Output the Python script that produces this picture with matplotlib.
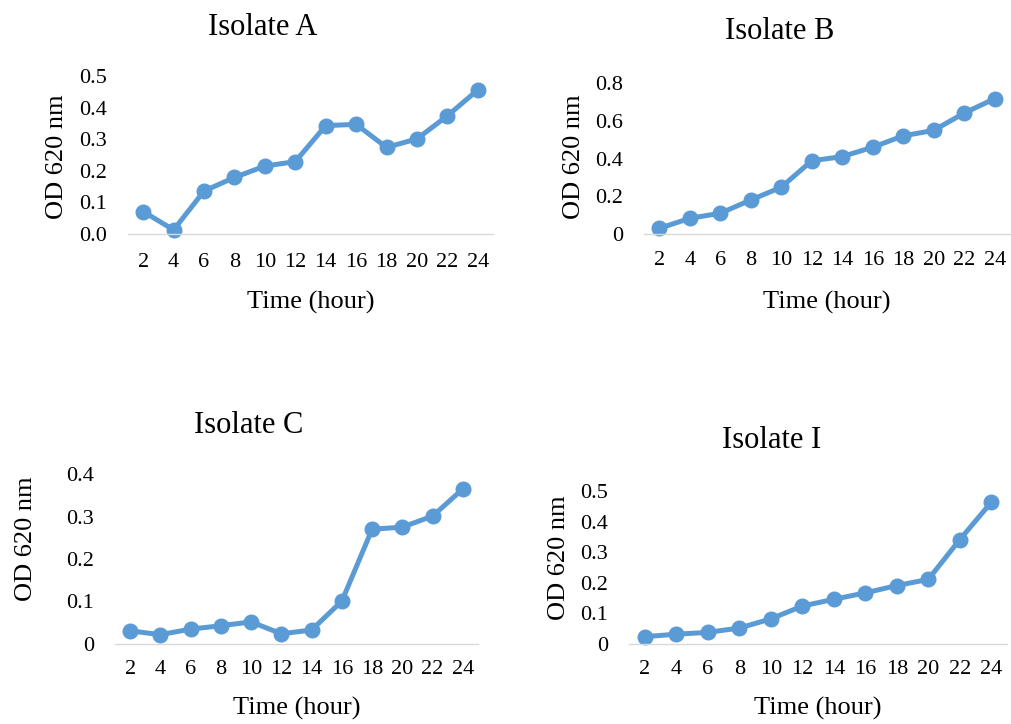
import matplotlib
matplotlib.use('Agg')
from matplotlib import pyplot as plt

# data
hours = [2, 4, 6, 8, 10, 12, 14, 16, 18, 20, 22, 24]
hour_labels = [str(h) for h in hours]

od_a = [0.071, 0.013, 0.136, 0.179, 0.215, 0.229, 0.343, 0.347, 0.274, 0.301, 0.374, 0.456]
od_b = [0.030, 0.083, 0.110, 0.180, 0.248, 0.388, 0.410, 0.460, 0.520, 0.549, 0.641, 0.717]
od_c = [0.031, 0.022, 0.035, 0.043, 0.052, 0.024, 0.033, 0.101, 0.270, 0.275, 0.301, 0.365]
od_i = [0.024, 0.032, 0.038, 0.052, 0.082, 0.124, 0.146, 0.167, 0.191, 0.211, 0.341, 0.463]

yticks_a = [0.0, 0.1, 0.2, 0.3, 0.4, 0.5]
ylabels_a = ['0.0', '0.1', '0.2', '0.3', '0.4', '0.5']
yticks_b = [0, 0.2, 0.4, 0.6, 0.8]
ylabels_b = ['0', '0.2', '0.4', '0.6', '0.8']
yticks_c = [0, 0.1, 0.2, 0.3, 0.4]
ylabels_c = ['0', '0.1', '0.2', '0.3', '0.4']
yticks_i = [0, 0.1, 0.2, 0.3, 0.4, 0.5]
ylabels_i = ['0', '0.1', '0.2', '0.3', '0.4', '0.5']

titles = ['Isolate A', 'Isolate B', 'Isolate C', 'Isolate I']

plt.rcParams['font.family'] = ['Liberation Serif', 'DejaVu Serif']

W, H = 1011, 724
fig = plt.figure(figsize=(W / 100, H / 100), dpi=100)

BLUE = '#5B9BD5'

# panel layout in pixels: left, right, top, bottom of the plot area,
# title (x, baseline), ylabel (x baseline, y center), xlabel baseline, x tick pad
panels = [
    (od_a, yticks_a, ylabels_a, 128, 493, 76, 234, (263, 35), (63, 157), 309, 14),
    (od_b, yticks_b, ylabels_b, 644, 1010, 83, 234, (780, 39), (580, 157), 309, 12),
    (od_c, yticks_c, ylabels_c, 115, 478, 474, 644, (249, 433), (32, 539), 715, 11.5),
    (od_i, yticks_i, ylabels_i, 629, 1007, 491, 644, (772, 448), (565, 558), 715, 11.5),
]

for k, (vals, yt, yl, l, r, t, b, tpos, ypos, xbase, xpad) in enumerate(panels):
    ax = fig.add_axes([l / W, 1 - b / H, (r - l) / W, (b - t) / H])
    ax.plot(hours, vals, color=BLUE, lw=3.6, marker='o', ms=10.5,
            solid_capstyle='round', solid_joinstyle='round', clip_on=False)
    ax.set_xlim(1, 25)
    ax.set_ylim(yt[0], yt[-1])
    ax.set_xticks(hours)
    ax.set_xticklabels(hour_labels)
    ax.set_yticks(yt)
    ax.set_yticklabels(yl)
    ax.tick_params(length=0, labelsize=16, colors='black')
    ax.tick_params(axis='x', pad=xpad)
    ax.tick_params(axis='y', pad=15)
    for s in ['top', 'right', 'left']:
        ax.spines[s].set_visible(False)
    ax.spines['bottom'].set_color('#D9D9D9')
    ax.spines['bottom'].set_linewidth(1.0)

    fig.text(tpos[0] / W, 1 - tpos[1] / H, titles[k], fontsize=22,
             ha='center', va='baseline')
    fig.text(ypos[0] / W, 1 - ypos[1] / H, 'OD 620 nm', fontsize=19,
             rotation=90, rotation_mode='anchor', ha='center', va='baseline')
    fig.text((l + r) / 2 / W, 1 - xbase / H, 'Time (hour)', fontsize=19,
             ha='center', va='baseline')

fig.savefig('out.png', dpi=100)
